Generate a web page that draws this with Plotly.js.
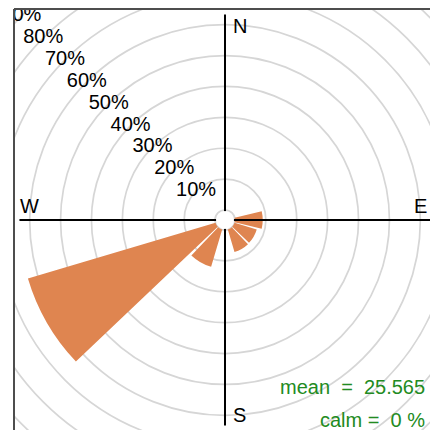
<!DOCTYPE html>
<html>
<head>
<meta charset="utf-8">
<script src="https://cdn.plot.ly/plotly-3.0.1.min.js"></script>
<style>
  html, body { margin:0; padding:0; background:#fff; }
  #win { position:absolute; left:0; top:0; width:430px; height:430px; overflow:hidden; background:#fff; }
  #clip { position:absolute; left:13px; top:8px; width:600px; height:600px; overflow:hidden; }
  #plot { position:absolute; left:-92px; top:-92px; width:608px; height:608px; }
</style>
</head>
<body>
<div id="win"><div id="clip"><div id="plot"></div></div></div>
<script>
// ---- data ----
const directions = [90, 120, 150, 210, 240];          // wind direction sectors (degrees)
const frequency  = [9.0, 7.5, 7.6, 12.6, 63.3];       // % of time in each sector
const ringValues = [10, 20, 30, 40, 50, 60, 70, 80, 90];
const ringLabels = ["10%", "20%", "30%", "40%", "50%", "60%", "70%", "80%", "90%"];
const cardinalLabels = ["N", "E", "S", "W"];
const meanText = "mean  =  25.565";
const calmText = "calm =  0 %";

// ---- geometry ----
const FIG = 608;                 // figure size (px)
const R_MIN = -0.3;
const R_MAX = 95.16;             // radial range top
const HOLE = 9 / 304;            // inner offset circle
const OX = -79, OY = -84;        // figure origin in window px
const CX = 225, CY = 220;        // centre of the rose in window px
function px(x) { return (x - OX) / FIG; }
function py(y) { return 1 - (y - OY) / FIG; }

const axisLen = Math.max.apply(null, frequency);

const traces = [
  { type: "scatterpolar", mode: "lines", r: [axisLen, 0, 0, axisLen], theta: [0, 0, 180, 180],
    line: { color: "#000", width: 2 }, hoverinfo: "skip" },
  { type: "scatterpolar", mode: "lines", r: [axisLen, 0, 0, axisLen], theta: [90, 90, 270, 270],
    line: { color: "#000", width: 2 }, hoverinfo: "skip" },
  { type: "barpolar", r: frequency, theta: directions, width: 27, base: 0,
    marker: { color: "#df8550", line: { width: 0 } } },
  { type: "scatterpolar", mode: "text", r: ringValues, theta: ringValues.map(() => 315),
    text: ringLabels, textposition: "middle center",
    textfont: { family: "Liberation Sans, Arial, sans-serif", size: 20, color: "#000" }, hoverinfo: "skip" }
];

const font = { family: "Liberation Sans, Arial, sans-serif", size: 20, color: "#000" };
const green = { family: "Liberation Sans, Arial, sans-serif", size: 20, color: "#228b22" };

const layout = {
  width: FIG, height: FIG,
  margin: { l: 0, r: 0, t: 0, b: 0, pad: 0 },
  paper_bgcolor: "#fff",
  showlegend: false,
  font: font,
  polar: {
    domain: { x: [0, 1], y: [0, 1] },
    bgcolor: "rgba(0,0,0,0)",
    hole: HOLE,
    barmode: "stack",
    radialaxis: { range: [R_MIN, R_MAX], tickvals: [0].concat(ringValues), showticklabels: false,
                  ticks: "", showline: false, gridcolor: "#d6d6d6", gridwidth: 1.7 },
    angularaxis: { rotation: 90, direction: "clockwise", showline: false, showgrid: false,
                   ticks: "", showticklabels: false }
  },
  shapes: [
    { type: "circle", layer: "below", xref: "paper", yref: "paper",
      x0: px(CX - 10), x1: px(CX + 10), y0: py(CY + 10), y1: py(CY - 10),
      line: { color: "#d6d6d6", width: 1.7 } },
    { type: "line", xref: "paper", yref: "paper", x0: px(14), x1: px(14), y0: py(9), y1: py(460),
      line: { color: "#4d4d4d", width: 2 } },
    { type: "line", xref: "paper", yref: "paper", x0: px(14), x1: px(460), y0: py(9), y1: py(9),
      line: { color: "#4d4d4d", width: 2 } }
  ],
  annotations: [
    { text: cardinalLabels[0], x: px(239.5), y: py(25.5) },
    { text: cardinalLabels[1], x: px(420), y: py(205.5) },
    { text: cardinalLabels[2], x: px(239), y: py(415) },
    { text: cardinalLabels[3], x: px(29.5), y: py(205.5) }
  ].map(a => Object.assign({ xref: "paper", yref: "paper", showarrow: false,
      xanchor: "center", yanchor: "middle", font: font }, a)).concat([
    { text: meanText, x: px(427), y: py(386.5), xref: "paper", yref: "paper", showarrow: false,
      xanchor: "right", yanchor: "middle", font: green },
    { text: calmText, x: px(427), y: py(419.5), xref: "paper", yref: "paper", showarrow: false,
      xanchor: "right", yanchor: "middle", font: green }
  ])
};

Plotly.newPlot("plot", traces, layout, { displayModeBar: false, staticPlot: true });
</script>
</body>
</html>
